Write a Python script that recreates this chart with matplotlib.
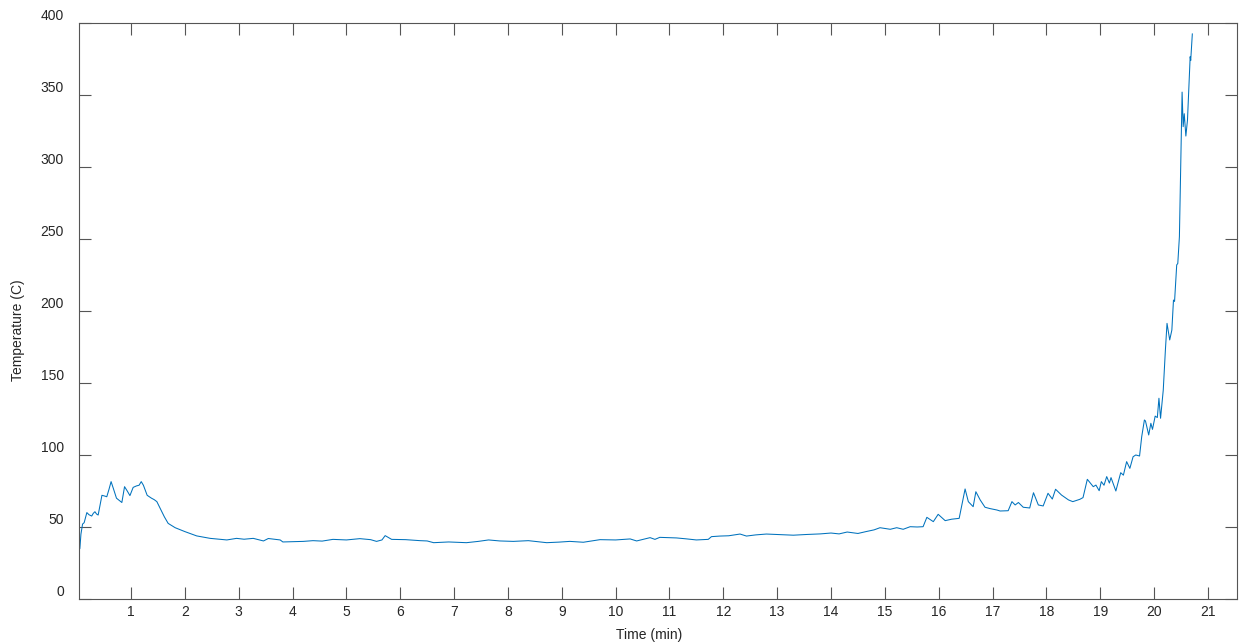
import matplotlib
matplotlib.use("Agg")
import matplotlib.pyplot as plt
import matplotlib.transforms as mtransforms

# temperature log
time_min = [0.03, 0.05, 0.07, 0.10, 0.13, 0.18, 0.22, 0.27, 0.30, 0.33, 0.36, 0.39, 0.43, 0.46,
            0.51, 0.55, 0.59, 0.63, 0.67, 0.73, 0.78, 0.83, 0.88, 0.93, 0.98, 1.04, 1.10, 1.15,
            1.19, 1.23, 1.30, 1.38, 1.43, 1.48, 1.54, 1.62, 1.69, 1.82, 2.00, 2.22, 2.47, 2.78,
            2.96, 3.10, 3.27, 3.46, 3.55, 3.77, 3.82, 4.01, 4.20, 4.38, 4.55, 4.75, 5.00, 5.25,
            5.45, 5.56, 5.66, 5.72, 5.84, 6.10, 6.37, 6.50, 6.62, 6.90, 7.23, 7.45, 7.64, 7.85,
            8.10, 8.38, 8.55, 8.72, 8.95, 9.15, 9.40, 9.71, 10.00, 10.27, 10.39, 10.55, 10.64,
            10.73, 10.82, 11.13, 11.30, 11.50, 11.72, 11.78, 11.94, 12.10, 12.31, 12.43, 12.60,
            12.80, 13.05, 13.30, 13.55, 13.80, 14.00, 14.15, 14.30, 14.50, 14.65, 14.80, 14.91,
            15.10, 15.22, 15.34, 15.47, 15.60, 15.71, 15.78, 15.90, 15.99, 16.12, 16.24, 16.38,
            16.43, 16.49, 16.55, 16.64, 16.69, 16.77, 16.86, 16.95, 17.08, 17.14, 17.29, 17.36,
            17.42, 17.48, 17.57, 17.69, 17.76, 17.85, 17.94, 18.03, 18.11, 18.17, 18.28, 18.41,
            18.49, 18.62, 18.68, 18.76, 18.87, 18.92, 18.98, 19.02, 19.07, 19.12, 19.17, 19.20,
            19.29, 19.38, 19.43, 19.49, 19.55, 19.61, 19.66, 19.73, 19.77, 19.82, 19.84, 19.90,
            19.94, 19.97, 20.02, 20.06, 20.09, 20.12, 20.17, 20.21, 20.24, 20.29, 20.33, 20.36,
            20.38, 20.42, 20.44, 20.47, 20.49, 20.52, 20.54, 20.56, 20.59, 20.62, 20.67, 20.68,
            20.71]
temp_c = [34.0, 35.0, 45.0, 52.0, 53.0, 60.0, 58.5, 57.6, 59.5, 60.6, 59.0, 58.3, 66.0, 72.0,
          71.5, 71.0, 76.0, 81.5, 77.0, 70.0, 68.5, 67.0, 78.0, 75.0, 71.8, 77.5, 78.5, 79.0,
          81.5, 79.0, 72.0, 70.0, 69.0, 67.6, 63.0, 57.0, 52.5, 49.5, 46.8, 43.8, 42.1, 41.0,
          42.1, 41.5, 42.1, 40.3, 42.0, 41.0, 39.6, 39.8, 40.0, 40.5, 40.2, 41.4, 41.0, 41.9,
          41.2, 40.0, 41.0, 44.0, 41.4, 41.2, 40.5, 40.3, 39.1, 39.6, 39.1, 40.0, 41.0, 40.3,
          40.0, 40.5, 39.8, 39.1, 39.5, 40.0, 39.4, 41.2, 41.0, 41.7, 40.3, 41.8, 42.6, 41.4,
          42.8, 42.4, 41.8, 41.0, 41.4, 43.3, 43.7, 43.9, 45.1, 43.7, 44.5, 45.1, 44.7, 44.3,
          44.8, 45.2, 45.8, 45.2, 46.5, 45.5, 46.8, 48.0, 49.5, 48.4, 49.5, 48.4, 50.2, 50.0,
          50.2, 56.7, 53.7, 58.8, 54.4, 55.4, 56.0, 65.3, 76.4, 67.6, 64.1, 74.5, 68.8, 63.7,
          62.8, 61.8, 61.1, 61.3, 67.6, 65.3, 67.0, 63.7, 63.2, 73.8, 65.3, 64.6, 73.4, 69.4,
          76.2, 72.2, 68.8, 67.6, 69.2, 70.4, 83.1, 78.0, 79.1, 75.2, 81.5, 79.0, 85.0, 80.5,
          84.3, 75.0, 87.7, 86.0, 95.4, 90.7, 98.8, 100.0, 99.3, 112.7, 124.3, 123.6, 113.9,
          122.0, 117.8, 127.0, 126.0, 139.4, 125.5, 145.0, 173.0, 191.4, 179.9, 186.8, 207.6,
          206.6, 232.0, 233.0, 251.6, 293.0, 352.0, 328.0, 337.0, 321.5, 332.6, 376.6, 374.0,
          392.4]

x_ticks = list(range(1, 22))
y_ticks = list(range(0, 401, 50))

plt.rcParams['font.family'] = ['Liberation Sans', 'DejaVu Sans']

fig = plt.figure(figsize=(12.39, 6.44), dpi=100)
ax = fig.add_axes([0.0638, 0.0699, 0.9346, 0.8944])

ax.plot(time_min, temp_c, color='#0072BD', linewidth=0.75)

ax.set_xlim(0.035, 21.54)
ax.set_ylim(0, 400)
ax.set_xticks(x_ticks)
ax.set_yticks(y_ticks)

axis_col = '#262626'
for s in ax.spines.values():
    s.set_color('#555555')
    s.set_linewidth(0.8)
ax.tick_params(direction='in', length=8.6, width=0.8, color='#555555',
               labelcolor=axis_col, labelsize=10, top=True, right=True)
ax.tick_params(axis='y', pad=11)
ax.tick_params(axis='x', pad=4)

# MATLAB export puts the y labels a little above the ticks
shift = mtransforms.ScaledTranslation(0, 8 / 100, fig.dpi_scale_trans)
for lab in ax.get_yticklabels():
    lab.set_transform(lab.get_transform() + shift)

ax.set_xlabel('Time (min)', fontsize=10, color=axis_col)
ax.set_ylabel('Temperature (C)', fontsize=10, color=axis_col)
ax.xaxis.set_label_coords(0.492, -0.05)
ax.yaxis.set_label_coords(-0.047, 0.467)

fig.savefig('out.png', dpi=100)
